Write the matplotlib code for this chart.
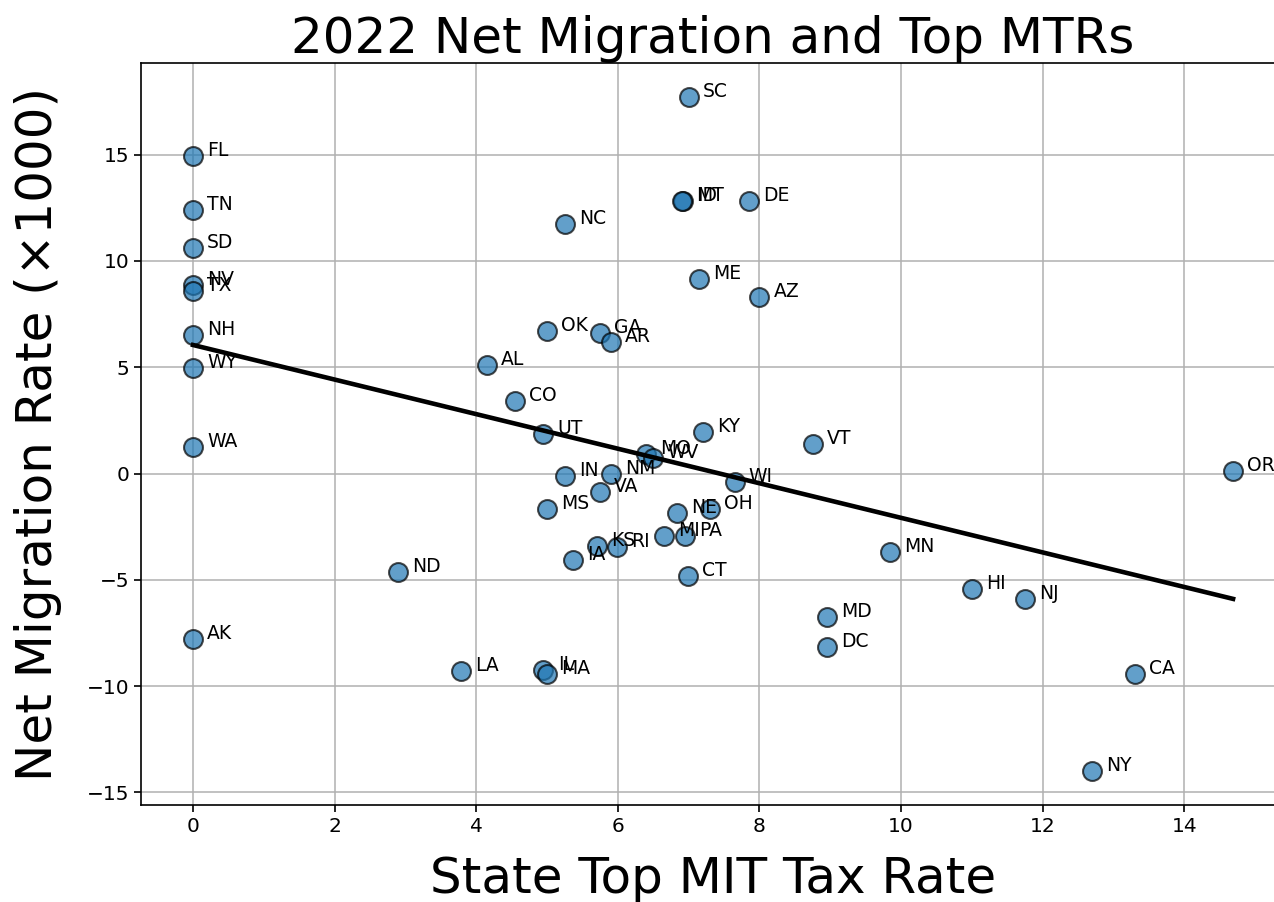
import numpy as np
import matplotlib
matplotlib.use("Agg")
import matplotlib.pyplot as plt

# state labels, top marginal income tax rate (%), net migration rate (x1000)
states = ["SC", "FL", "TN", "SD", "NV", "TX", "NH", "WY", "WA", "AK",
          "ID", "MT", "DE", "NC", "ME", "AZ", "OK", "GA", "AR", "AL",
          "CO", "UT", "KY", "VT", "MO", "WV", "IN", "NM", "VA", "WI",
          "OR", "MS", "NE", "OH", "MI", "PA", "KS", "RI", "IA", "CT",
          "ND", "LA", "IL", "MA", "MN", "HI", "NJ", "MD", "DC", "CA", "NY"]
tax_rate = [7.0, 0.0, 0.0, 0.0, 0.0, 0.0, 0.0, 0.0, 0.0, 0.0,
            6.925, 6.9, 7.85, 5.25, 7.15, 8.0, 5.0, 5.75, 5.9, 4.15,
            4.55, 4.95, 7.2, 8.75, 6.4, 6.5, 5.25, 5.9, 5.75, 7.65,
            14.69, 5.0, 6.84, 7.3, 6.65, 6.95, 5.7, 5.99, 5.37, 6.99,
            2.9, 3.78, 4.95, 5.0, 9.85, 11.0, 11.75, 8.95, 8.95, 13.3, 12.7]
net_migration = [17.72, 14.95, 12.41, 10.63, 8.85, 8.6, 6.53, 4.98, 1.27, -7.8,
                 12.83, 12.8, 12.83, 11.75, 9.17, 8.32, 6.72, 6.63, 6.21, 5.12,
                 3.39, 1.88, 1.93, 1.41, 0.94, 0.75, -0.14, 0.0, -0.85, -0.42,
                 0.14, -1.65, -1.88, -1.69, -2.95, -2.95, -3.42, -3.45, -4.09, -4.83,
                 -4.61, -9.31, -9.26, -9.45, -3.67, -5.45, -5.92, -6.77, -8.18, -9.45, -14.01]

x = np.array(tax_rate)
y = np.array(net_migration)

fig = plt.figure(figsize=(12.74, 9.02), dpi=100)
ax = fig.add_axes([0.1107, 0.1075, 0.898, 0.8225])

ax.scatter(x, y, s=185, alpha=0.7, edgecolors="black", linewidths=1.5, zorder=3)
for s, xi, yi in zip(states, x, y):
    ax.text(xi + 0.2, yi, s, fontsize=13.5, zorder=4)

# linear fit
m, b = np.polyfit(x, y, 1)
xs = np.array([x.min(), x.max()])
ax.plot(xs, m * xs + b, color="black", linewidth=3.3, zorder=3)

ax.grid(True, color="#b0b0b0", linewidth=1.1)
ax.set_axisbelow(True)
ax.tick_params(labelsize=14.5, width=1.2, length=5)
for sp in ax.spines.values():
    sp.set_linewidth(1.2)

ax.set_title("2022 Net Migration and Top MTRs", fontsize=36)
ax.set_xlabel("State Top MIT Tax Rate", fontsize=36, labelpad=14)
ax.set_ylabel("Net Migration Rate (×1000)", fontsize=36, labelpad=18)

fig.savefig("out.png", dpi=100)
